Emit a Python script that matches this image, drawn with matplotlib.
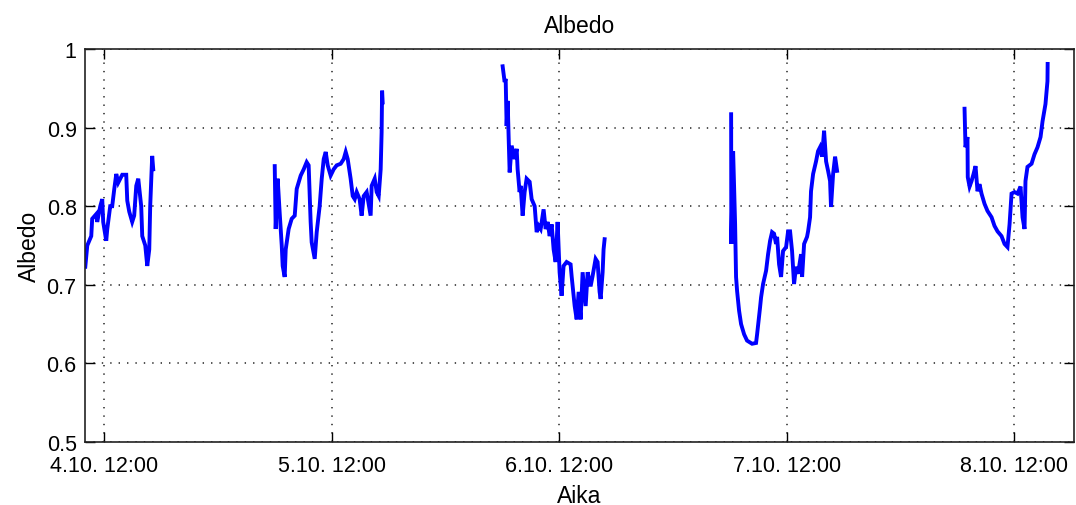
import matplotlib
matplotlib.use("Agg")
import matplotlib.pyplot as plt

# Day index (0 = 4.10.) and hour of day, albedo values per daytime segment
seg_days = [0, 1, 2, 3, 4]

hours_1 = [10.00, 10.21, 10.63, 10.73, 11.16, 11.26, 11.58, 11.79, 11.89, 12.21, 12.32, 12.63,
           12.84, 13.06, 13.27, 13.48, 13.90, 14.32, 14.43, 14.64, 14.95, 15.16, 15.38, 15.59,
           15.90, 16.01, 16.33, 16.54, 16.75, 16.85, 17.06, 17.17]
albedo_1 = [0.723, 0.750, 0.762, 0.784, 0.790, 0.780, 0.800, 0.809, 0.780, 0.756, 0.771, 0.800,
            0.800, 0.822, 0.841, 0.830, 0.840, 0.840, 0.807, 0.793, 0.780, 0.788, 0.826, 0.835,
            0.800, 0.762, 0.750, 0.724, 0.745, 0.800, 0.864, 0.847]

hours_2 = [5.99, 6.09, 6.30, 6.51, 6.73, 6.83, 7.04, 7.15, 7.46, 7.78, 8.10, 8.31, 8.73, 9.05,
           9.36, 9.57, 9.78, 9.89, 10.21, 10.42, 10.73, 10.95, 11.16, 11.37, 11.58, 11.89, 12.21,
           12.53, 12.95, 13.27, 13.48, 13.69, 14.00, 14.22, 14.43, 14.64, 14.95, 15.16, 15.38,
           15.69, 16.11, 16.22, 16.54, 16.75, 16.96, 17.17, 17.27, 17.32, 17.38]
albedo_2 = [0.851, 0.771, 0.835, 0.792, 0.750, 0.724, 0.710, 0.745, 0.771, 0.784, 0.788, 0.822,
            0.839, 0.847, 0.856, 0.852, 0.780, 0.754, 0.733, 0.767, 0.800, 0.835, 0.860, 0.869,
            0.852, 0.839, 0.847, 0.852, 0.854, 0.860, 0.869, 0.860, 0.835, 0.813, 0.809, 0.818,
            0.809, 0.788, 0.813, 0.818, 0.788, 0.826, 0.835, 0.818, 0.813, 0.847, 0.894, 0.947,
            0.932]

hours_3 = [6.04, 6.25, 6.36, 6.46, 6.57, 6.67, 6.78, 6.99, 7.31, 7.52, 7.62, 7.83, 7.94, 8.15,
           8.36, 8.57, 8.89, 9.10, 9.42, 9.63, 9.84, 10.05, 10.36, 10.58, 10.79, 11.00, 11.21,
           11.42, 11.63, 11.84, 12.05, 12.26, 12.47, 12.79, 13.21, 13.32, 13.64, 13.85, 14.06,
           14.27, 14.48, 14.80, 15.01, 15.32, 15.53, 15.85, 16.06, 16.27, 16.38, 16.59, 16.69,
           16.80]
albedo_3 = [0.978, 0.958, 0.962, 0.902, 0.934, 0.889, 0.843, 0.877, 0.860, 0.873, 0.847, 0.818,
            0.826, 0.788, 0.818, 0.835, 0.831, 0.809, 0.800, 0.767, 0.775, 0.771, 0.796, 0.771,
            0.780, 0.762, 0.777, 0.745, 0.729, 0.780, 0.716, 0.686, 0.724, 0.729, 0.726, 0.711,
            0.673, 0.656, 0.691, 0.656, 0.716, 0.673, 0.716, 0.698, 0.711, 0.733, 0.729, 0.691,
            0.682, 0.716, 0.745, 0.758]

hours_4 = [6.15, 6.17, 6.36, 6.57, 6.67, 6.78, 6.99, 7.20, 7.52, 7.83, 8.36, 8.78, 8.89, 9.20,
           9.31, 9.52, 9.84, 10.05, 10.26, 10.47, 10.68, 10.89, 11.00, 11.21, 11.42, 11.63,
           11.95, 12.16, 12.37, 12.58, 12.79, 13.00, 13.21, 13.53, 13.64, 13.85, 14.16, 14.27,
           14.48, 14.58, 14.80, 15.11, 15.32, 15.53, 15.74, 15.96, 16.17, 16.38, 16.59, 16.69,
           16.91, 17.12, 17.33]
albedo_4 = [0.917, 0.752, 0.870, 0.777, 0.710, 0.692, 0.667, 0.650, 0.637, 0.629, 0.625, 0.626,
            0.637, 0.671, 0.684, 0.701, 0.718, 0.739, 0.756, 0.767, 0.765, 0.752, 0.761, 0.726,
            0.710, 0.743, 0.748, 0.768, 0.768, 0.743, 0.701, 0.723, 0.714, 0.739, 0.710, 0.752,
            0.761, 0.768, 0.786, 0.819, 0.841, 0.857, 0.870, 0.875, 0.863, 0.896, 0.857, 0.845,
            0.832, 0.799, 0.841, 0.863, 0.845]

hours_5 = [6.78, 6.88, 7.09, 7.12, 7.31, 7.52, 7.73, 7.94, 8.15, 8.36, 8.57, 8.89, 9.20, 9.63,
           9.94, 10.26, 10.68, 11.00, 11.31, 11.53, 11.74, 12.05, 12.37, 12.69, 12.90, 13.11,
           13.21, 13.42, 13.85, 14.16, 14.48, 14.80, 15.01, 15.32, 15.53, 15.55]
albedo_5 = [0.924, 0.875, 0.888, 0.837, 0.825, 0.832, 0.841, 0.851, 0.819, 0.828, 0.816, 0.803,
            0.794, 0.786, 0.775, 0.768, 0.762, 0.752, 0.748, 0.777, 0.816, 0.818, 0.816, 0.825,
            0.786, 0.771, 0.832, 0.850, 0.854, 0.866, 0.875, 0.888, 0.908, 0.930, 0.959, 0.981]

hours_all = [hours_1, hours_2, hours_3, hours_4, hours_5]
albedo_all = [albedo_1, albedo_2, albedo_3, albedo_4, albedo_5]

tick_days = [0.5, 1.5, 2.5, 3.5, 4.5]
tick_labels = ["4.10. 12:00", "5.10. 12:00", "6.10. 12:00", "7.10. 12:00", "8.10. 12:00"]
y_ticks = [0.5, 0.6, 0.7, 0.8, 0.9, 1.0]
y_tick_labels = ["0.5", "0.6", "0.7", "0.8", "0.9", "1"]

plt.rcParams['font.family'] = ['Liberation Sans', 'DejaVu Sans']

fig = plt.figure(figsize=(10.76, 5.06), dpi=100)
ax = fig.add_axes([85 / 1076, 1 - 443 / 506, (1074 - 85) / 1076, (443 - 50) / 506])

for d, hrs, alb in zip(seg_days, hours_all, albedo_all):
    xs = [d + h / 24.0 for h in hrs]
    ax.plot(xs, alb, color='#0000FF', linewidth=2.8, solid_joinstyle='miter')

ax.set_xlim(0 + 9.97 / 24.0, 4 + 18.33 / 24.0)
ax.set_ylim(0.5, 1.0)
ax.set_xticks(tick_days)
ax.set_xticklabels(tick_labels)
ax.set_yticks(y_ticks)
ax.set_yticklabels(y_tick_labels)

ax.grid(True, color='#222222', linestyle=(0, (0.9, 4.6)), linewidth=1.1)
ax.tick_params(direction='in', length=7, width=1.0, top=True, right=True,
               labelsize=15.5, colors='black')
ax.tick_params(axis='x', pad=9)
ax.tick_params(axis='y', pad=6)
for s in ax.spines.values():
    s.set_linewidth(1.2)
    s.set_color('#222222')

ax.set_title("Albedo", fontsize=16.5, pad=12)
ax.set_xlabel("Aika", fontsize=16.5, labelpad=6)
ax.set_ylabel("Albedo", fontsize=16.5, labelpad=4)

fig.savefig("out.png", dpi=100)
